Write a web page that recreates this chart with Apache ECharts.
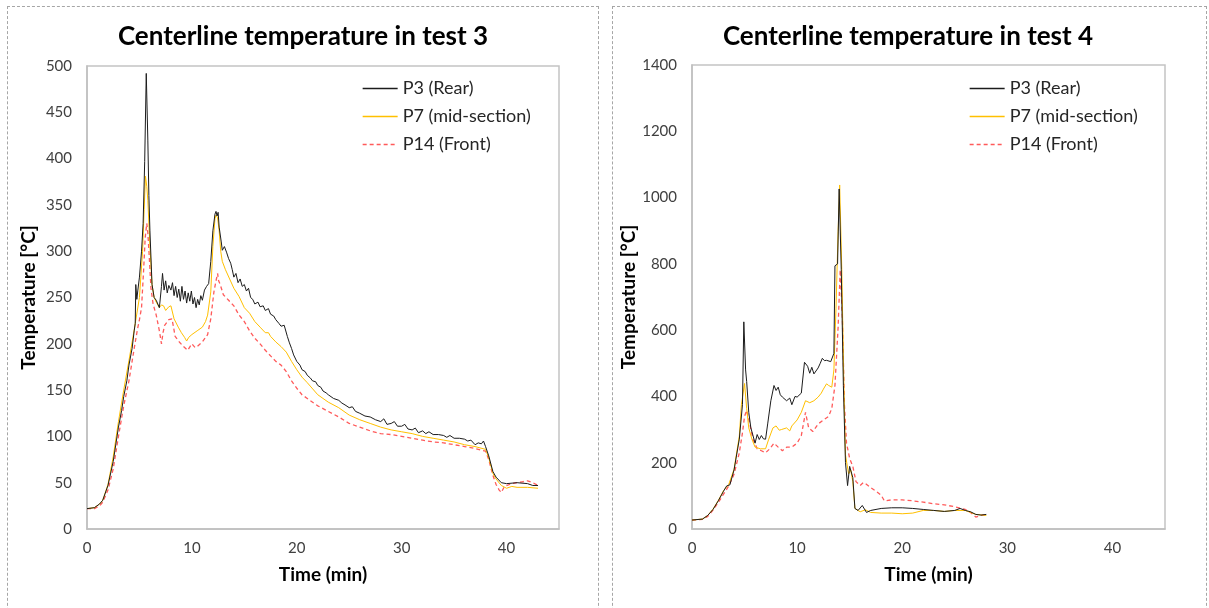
<!DOCTYPE html>
<html>
<head>
<meta charset="utf-8">
<script src="https://cdn.jsdelivr.net/npm/echarts@6/dist/echarts.min.js"></script>
<style>
html,body{margin:0;padding:0;background:#fff;}
#wrap{position:relative;width:1209px;height:608px;overflow:hidden;}
.panel{position:absolute;border:1px dashed #a6a6a6;box-sizing:border-box;}
#chart{position:absolute;left:0;top:0;width:1209px;height:608px;}
</style>
</head>
<body>
<div id="wrap">
  <div class="panel" style="left:7px;top:6px;width:592px;height:640px;"></div>
  <div class="panel" style="left:612px;top:6px;width:595px;height:640px;"></div>
  <div id="chart"></div>
</div>
<script>
// ---- Titles, legend names, axis ticks ----
const titles = ['Centerline temperature in test 3', 'Centerline temperature in test 4'];
const seriesNames = ['P3 (Rear)', 'P7 (mid-section)', 'P14 (Front)'];
const xTicks = {min: 0, max: 45, interval: 10};
const yTicksTest3 = {min: 0, max: 500, interval: 50};
const yTicksTest4 = {min: 0, max: 1400, interval: 200};

// ---- Test 3 : [time (min), temperature (°C)] ----
const test3_P3 = [[0,22],[0.7,23],[1.2,27],[1.5,31],[2,47],[2.5,73],[3,110],[3.3,128],[3.5,143],[3.8,160],[4,177],[4.3,195],[4.5,214],[4.6,222],[4.65,264],[4.75,248],[4.85,258],[5.0,272],[5.2,300],[5.35,330],[5.5,397],[5.65,492],[5.8,420],[5.9,360],[6.0,322],[6.2,264],[6.4,250],[6.6,247],[6.9,239],[7.1,262],[7.2,276],[7.35,258],[7.5,268],[7.65,255],[7.8,263],[8.0,258],[8.15,266],[8.3,252],[8.45,262],[8.6,250],[8.75,259],[8.9,246],[9.05,262],[9.2,248],[9.35,257],[9.5,244],[9.65,255],[9.8,246],[9.95,257],[10.1,243],[10.25,250],[10.4,239],[10.55,248],[10.7,242],[10.85,252],[11.0,247],[11.2,258],[11.4,262],[11.6,265],[11.8,289],[12.0,322],[12.2,340],[12.3,343],[12.4,338],[12.5,342],[12.6,326],[12.8,310],[12.9,301],[13.1,305],[13.3,299],[13.5,292],[13.7,287],[13.85,280],[14.0,272],[14.2,276],[14.4,266],[14.6,270],[14.8,262],[15.0,264],[15.2,257],[15.4,260],[15.6,250],[15.8,248],[16.0,243],[16.3,245],[16.5,240],[16.8,241],[17.0,236],[17.3,238],[17.5,232],[17.8,230],[18.0,226],[18.3,222],[18.5,219],[18.8,220],[18.9,216],[19.1,208],[19.3,201],[19.5,195],[19.7,188],[20,181],[20.3,177],[20.5,172],[20.8,170],[21,166],[21.3,163],[21.5,160],[21.8,159],[22,155],[22.3,153],[22.5,149],[22.8,147],[23,145],[23.5,141],[24,139],[24.3,136],[24.6,134],[25,131],[25.3,132],[25.6,127],[26,125],[26.5,122],[27,121],[27.5,118],[28,116],[28.3,119],[28.6,113],[29,114],[29.3,116],[29.6,111],[30,111],[30.3,113],[30.6,108],[31,107],[31.3,109],[31.6,104],[32,106],[32.3,103],[32.6,105],[33,102],[33.5,102],[34,101],[34.3,99],[34.6,101],[35,98],[35.5,98],[36,97],[36.3,95],[36.6,96],[37,91],[37.3,93],[37.6,92],[37.8,95],[38,89],[38.3,79],[38.7,62],[39,56],[39.5,50],[40,49],[41,50],[42,49],[42.5,47],[43,47]];
const test3_P7 = [[0,22],[0.7,23],[1.2,27],[1.5,31],[2,48],[2.5,78],[3,116],[3.5,150],[4,182],[4.5,215],[5,250],[5.3,300],[5.45,345],[5.57,381],[5.7,370],[5.8,355],[6.0,305],[6.2,264],[6.4,250],[6.6,245],[6.9,239],[7.1,242],[7.3,241],[7.5,236],[7.6,235],[7.8,240],[8,241],[8.3,227],[8.7,218],[9,212],[9.3,207],[9.5,203],[9.7,207],[10,210],[10.5,214],[11,218],[11.3,224],[11.5,231],[11.8,256],[12,305],[12.2,335],[12.3,339],[12.45,336],[12.6,322],[12.75,300],[12.9,289],[13.2,280],[13.6,270],[14,260],[14.5,251],[15,239],[15.5,233],[16,224],[16.5,218],[17,212],[17.3,212],[17.5,208],[18,202],[18.5,197],[19,191],[19.5,181],[20,172],[20.5,164],[21,158],[22,145],[23,137],[24,131],[25,123],[26,118],[27,114],[28,110],[29,107],[30,105],[31,103],[32,100],[33,98],[34,96],[35,94],[36,91],[37,89],[38,86],[38.3,77],[38.7,60],[39,54],[39.5,47],[40,44],[40.5,46],[41,45],[42,45],[43,44]];
const test3_P14 = [[0,22],[0.7,22],[1.2,25],[1.5,29],[2,42],[2.5,65],[3,100],[3.5,133],[4,160],[4.5,195],[4.8,215],[5,226],[5.2,239],[5.4,280],[5.55,315],[5.7,330],[5.8,320],[5.9,301],[6.1,260],[6.3,243],[6.6,231],[6.9,214],[7.1,200],[7.25,212],[7.4,220],[7.8,226],[8.1,227],[8.25,218],[8.4,208],[8.8,202],[9.2,197],[9.6,193],[10,200],[10.3,196],[10.5,197],[10.8,200],[11,202],[11.5,210],[11.8,227],[12.1,256],[12.3,268],[12.45,276],[12.55,268],[12.7,264],[13,253],[13.5,247],[14,241],[14.5,231],[15,224],[15.5,214],[16,206],[16.5,200],[17,193],[17.5,187],[18,181],[18.5,177],[19,170],[19.5,160],[20,152],[20.5,145],[21,141],[22,133],[23,127],[24,121],[25,114],[26,110],[27,106],[28,103],[29,102],[30,100],[31,98],[32,96],[33,94],[34,93],[35,91],[36,89],[37,87],[38,84],[38.3,75],[38.7,58],[39,48],[39.3,42],[39.5,39.5],[39.8,46],[40.5,49],[41,50],[41.5,51],[42,52],[42.5,50],[43,47]];

// ---- Test 4 : [time (min), temperature (°C)] ----
const test4_P3 = [[0,27],[1,30],[1.5,41],[2,59],[2.5,85],[3,114],[3.3,130],[3.6,133],[4,178],[4.5,271],[4.8,375],[4.93,625],[5.1,480],[5.2,445],[5.4,352],[5.6,305],[6,259],[6.2,285],[6.4,270],[6.6,282],[6.8,272],[7,271],[7.2,317],[7.5,387],[7.8,433],[8,418],[8.2,428],[8.4,405],[8.6,398],[9,387],[9.3,395],[9.5,375],[9.8,400],[10,398],[10.4,410],[10.7,503],[11,491],[11.2,470],[11.4,488],[11.6,468],[12,486],[12.2,500],[12.4,515],[12.6,508],[12.8,509],[13.2,505],[13.5,530],[13.6,794],[13.85,800],[14,1026],[14.2,782],[14.4,433],[14.6,201],[14.8,131],[15,189],[15.3,155],[15.5,62],[15.8,56],[16.2,71],[16.6,50],[17,56],[18,62],[19,64],[20,64],[21,62],[22,59],[23,56],[24,53],[25,56],[25.5,62],[26,56],[26.5,52],[27,44],[27.5,42],[28,44]];
const test4_P7 = [[0,27],[1,30],[1.5,41],[2,60],[2.5,86],[3,116],[3.5,135],[4,180],[4.5,280],[4.7,375],[5.0,439],[5.2,364],[5.4,305],[5.7,271],[6,247],[6.5,242],[7,242],[7.3,271],[7.7,305],[8,311],[8.3,298],[8.5,300],[9,305],[9.3,296],[9.5,311],[10,329],[10.4,352],[10.8,387],[11.2,381],[11.6,387],[12,398],[12.3,410],[12.5,422],[12.8,438],[13,433],[13.3,428],[13.5,480],[13.7,666],[13.9,898],[14.05,1038],[14.25,782],[14.45,433],[14.6,224],[14.9,166],[15.1,178],[15.3,143],[15.5,62],[16,52],[16.5,58],[17,50],[18,48],[19,48],[20,46],[21,48],[22,56],[23,56],[24,53],[25,56],[26,56],[27,44],[28,41]];
const test4_P14 = [[0,27],[1,29],[1.5,38],[2,57],[2.5,80],[3,105],[3.5,130],[4,165],[4.5,230],[4.8,290],[5.0,340],[5.2,358],[5.5,317],[5.8,271],[6.2,242],[6.6,236],[7,230],[7.4,242],[7.8,259],[8.2,247],[8.6,236],[9,247],[9.5,247],[10,259],[10.4,282],[10.8,352],[11.1,305],[11.5,294],[12,317],[12.5,329],[13,340],[13.3,364],[13.6,433],[13.9,608],[14.1,782],[14.3,643],[14.5,375],[14.7,259],[15,213],[15.3,189],[15.6,143],[16,131],[16.3,140],[16.5,137],[17,125],[17.5,114],[18,102],[18.3,85],[19,88],[20,88],[21,85],[22,81],[23,76],[24,73],[25,67],[26,59],[26.5,50],[27,36],[27.5,41],[28,44]];

// ---- Chart ----
const FONT = 'Lato, "Open Sans", sans-serif';
const colors = ['#1c1c1c', '#FFC000', '#FF5A5A'];
const lineStyles = [
  {width: 1, type: 'solid'},
  {width: 1, type: 'solid'},
  {width: 1.3, type: [4, 3]}
];

const chart = echarts.init(document.getElementById('chart'), null, {renderer: 'canvas'});

function mkSeries(gridIdx, datas) {
  return datas.map((d, i) => ({
    name: seriesNames[i],
    type: 'line',
    xAxisIndex: gridIdx,
    yAxisIndex: gridIdx,
    data: d,
    symbol: 'none',
    showSymbol: false,
    animation: false,
    color: colors[i],
    lineStyle: Object.assign({color: colors[i]}, lineStyles[i]),
    z: 3 - i
  }));
}

const grids = [
  {left: 87, top: 66, width: 472, height: 463},
  {left: 692, top: 65, width: 473, height: 464}
];
const yTicks = [yTicksTest3, yTicksTest4];
const yNameGap = [49, 54];
const legendLeft = [362, 969];
const titleCenter = [303, 908];

const option = {
  animation: false,
  backgroundColor: 'transparent',
  color: colors,
  title: titles.map((t, i) => ({
    text: t,
    left: titleCenter[i],
    top: 22,
    textAlign: 'center',
    padding: 0,
    textStyle: {fontFamily: FONT, fontWeight: 'bold', fontSize: 26, color: '#000', lineHeight: 30}
  })),
  legend: [0, 1].map(i => ({
    orient: 'vertical',
    left: legendLeft[i],
    top: 78,
    padding: 0,
    itemWidth: 35,
    itemHeight: 14,
    itemGap: 7,
    data: seriesNames.slice(),
    itemStyle: {opacity: 0},
    lineStyle: {width: 1.3},
    textStyle: {fontFamily: FONT, fontSize: 18, color: '#262626', lineHeight: 21},
    selectedMode: false
  })),
  grid: grids.map(g => Object.assign({show: true, borderColor: '#c4c4c4', borderWidth: 1.5, backgroundColor: '#fff'}, g)),
  xAxis: [0, 1].map(i => ({
    type: 'value',
    gridIndex: i,
    min: xTicks.min, max: xTicks.max, interval: xTicks.interval,
    name: 'Time (min)',
    nameLocation: 'middle',
    nameGap: 36,
    nameTextStyle: {fontFamily: FONT, fontWeight: 'bold', fontSize: 19, color: '#000'},
    axisLine: {show: true, lineStyle: {color: '#bfbfbf', width: 1.5}},
    axisTick: {show: false},
    splitLine: {show: false},
    axisLabel: {color: '#404040', fontSize: 15, fontFamily: FONT, margin: 12, showMaxLabel: false}
  })),
  yAxis: [0, 1].map(i => ({
    type: 'value',
    gridIndex: i,
    min: yTicks[i].min, max: yTicks[i].max, interval: yTicks[i].interval,
    name: 'Temperature [°C]',
    nameLocation: 'middle',
    nameGap: yNameGap[i],
    nameRotate: 90,
    nameTextStyle: {fontFamily: FONT, fontWeight: 'bold', fontSize: 19, color: '#000'},
    axisLine: {show: true, lineStyle: {color: '#bfbfbf', width: 1.5}},
    axisTick: {show: false},
    splitLine: {show: false},
    axisLabel: {color: '#404040', fontSize: 15, fontFamily: FONT, margin: 15, formatter: v => String(v)}
  })),
  series: []
    .concat(mkSeries(0, [test3_P3, test3_P7, test3_P14]))
    .concat(mkSeries(1, [test4_P3, test4_P7, test4_P14]))
};
chart.setOption(option);
</script>
</body>
</html>
